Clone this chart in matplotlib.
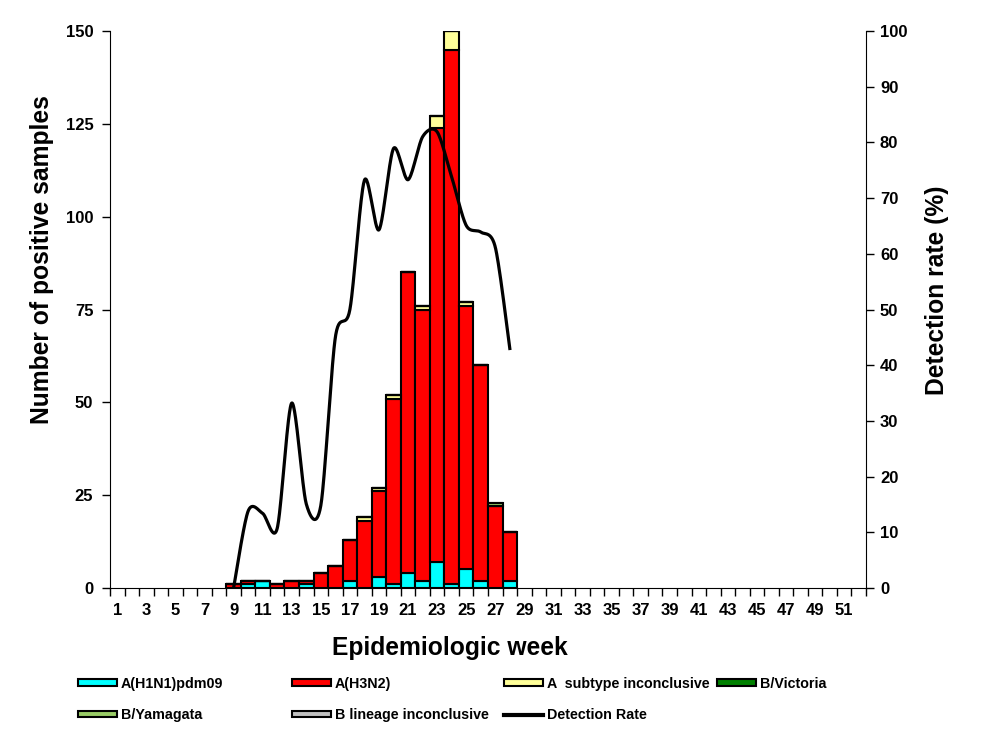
import numpy as np
import matplotlib.pyplot as plt
from matplotlib.patches import Patch
from matplotlib.lines import Line2D

plt.rcParams['font.family'] = ['Liberation Sans', 'DejaVu Sans']

# Epidemiologic weeks 1..52
weeks = np.arange(1, 53)

# counts per week for the weeks with data (9..28)
data_weeks = np.arange(9, 29)
h1n1 = [0, 1, 2, 0, 0, 1, 0, 0, 2, 0, 3, 1, 4, 2, 7, 1, 5, 2, 0, 2]
h3n2 = [1, 1, 0, 1, 2, 1, 4, 6, 11, 18, 23, 50, 81, 73, 117, 144, 71, 58, 22, 13]
a_inconcl = [0, 0, 0, 0, 0, 0, 0, 0, 0, 1, 1, 1, 0, 1, 3, 5, 1, 0, 0, 0]
b_victoria = [0] * 20
b_yamagata = [0, 0, 0, 0, 0, 0, 0, 0, 0, 0, 0, 0, 0, 0, 0, 0, 0, 0, 1, 0]
b_lin_inconcl = [0] * 20

# detection rate (%)
rate = [0, 13.8, 13.4, 10.7, 33.2, 15.1, 14.8, 45.0, 50.0, 73.2, 64.3, 78.9,
        73.3, 81.0, 81.9, 73.8, 65.1, 63.9, 61.2, 43.0]

series = [
    ("A(H1N1)pdm09", h1n1, "#00FFFF"),
    ("A(H3N2)", h3n2, "#FF0000"),
    ("A  subtype inconclusive", a_inconcl, "#FFFF99"),
    ("B/Victoria", b_victoria, "#008000"),
    ("B/Yamagata", b_yamagata, "#99CC66"),
    ("B lineage inconclusive", b_lin_inconcl, "#C0C0C0"),
]


def smooth_curve(x, y, n=30, k=7.0):
    # Excel-like smoothing: cubic Bezier with Catmull-Rom style control points
    x = np.asarray(x, float)
    y = np.asarray(y, float)
    px = np.concatenate([[x[0]], x, [x[-1]]])
    py = np.concatenate([[y[0]], y, [y[-1]]])
    xs, ys = [], []
    t = np.linspace(0, 1, n)
    for i in range(1, len(px) - 2):
        p0 = np.array([px[i], py[i]])
        p3 = np.array([px[i + 1], py[i + 1]])
        c1 = p0 + (np.array([px[i + 1], py[i + 1]]) - np.array([px[i - 1], py[i - 1]])) / k
        c2 = p3 - (np.array([px[i + 2], py[i + 2]]) - np.array([px[i], py[i]])) / k
        b = ((1 - t) ** 3)[:, None] * p0 + (3 * (1 - t) ** 2 * t)[:, None] * c1 \
            + (3 * (1 - t) * t ** 2)[:, None] * c2 + (t ** 3)[:, None] * p3
        xs.extend(b[:, 0])
        ys.extend(b[:, 1])
    return np.array(xs), np.array(ys)


fig = plt.figure(figsize=(9.97, 7.37), dpi=100)
ax = fig.add_axes([110 / 997, 1 - 588 / 737, 756 / 997, 557 / 737])

bottom = np.zeros(len(data_weeks))
for name, vals, col in series:
    vals = np.array(vals, float)
    ax.bar(data_weeks, vals, bottom=bottom, width=1.0, color=col,
           edgecolor='black', linewidth=1.5, zorder=2)
    bottom += vals

ax.set_xlim(0.5, 52.5)
ax.set_ylim(0, 150)
ax.set_yticks(np.arange(0, 151, 25))
ax.set_xticks(np.arange(0.5, 53, 1))
ax.set_xticklabels([])
ax.set_xticks(weeks[::2], minor=True)
ax.set_xticklabels([str(w) for w in weeks[::2]], minor=True)
ax.tick_params(axis='x', which='major', length=6, width=1, direction='out')
ax.tick_params(axis='x', which='minor', length=0, pad=11, labelsize=12)
ax.tick_params(axis='y', length=6, width=1, direction='out', labelsize=12, pad=6)
for lab in ax.get_xticklabels(minor=True) + ax.get_yticklabels():
    lab.set_fontweight('bold')
ax.spines['top'].set_visible(False)
ax.spines['right'].set_visible(False)

ax2 = ax.twinx()
ax2.set_ylim(0, 100)
ax2.set_yticks(np.arange(0, 101, 10))
ax2.tick_params(axis='y', length=6, width=1, direction='out', labelsize=12, pad=4)
for lab in ax2.get_yticklabels():
    lab.set_fontweight('bold')
ax2.spines['top'].set_visible(False)
ax2.spines['left'].set_visible(False)
ax2.spines['bottom'].set_visible(False)

sx, sy = smooth_curve(data_weeks, rate)
ax2.plot(sx, sy, color='black', linewidth=2.3, zorder=3)

fig.text(42 / 997, 1 - 260 / 737, "Number of positive samples", rotation=90,
         ha='center', va='center', fontsize=17.7, fontweight='bold')
fig.text(937 / 997, 1 - 290 / 737, "Detection rate (%)", rotation=90,
         ha='center', va='center', fontsize=17.7, fontweight='bold')
fig.text(450 / 997, 1 - 648 / 737, "Epidemiologic week",
         ha='center', va='center', fontsize=17.7, fontweight='bold')

# legend, built column by column
def handle(name):
    for n, _, c in series:
        if n == name:
            return Patch(facecolor=c, edgecolor='black', linewidth=1.5, label=n)
    return Line2D([], [], color='black', linewidth=3, label=name)

columns = [
    (78, ["A(H1N1)pdm09", "B/Yamagata"]),
    (292, ["A(H3N2)", "B lineage inconclusive"]),
    (504, ["A  subtype inconclusive", "Detection Rate"]),
    (717, ["B/Victoria"]),
]
for xpix, names in columns:
    leg = fig.legend(handles=[handle(n) for n in names], loc='upper left',
                     bbox_to_anchor=(xpix / 997, 1 - 677 / 737), frameon=False,
                     prop={'size': 10.3, 'weight': 'bold'}, handlelength=2.7,
                     handleheight=0.35, handletextpad=0.3, labelspacing=1.2,
                     borderpad=0, borderaxespad=0)

fig.savefig("out.png", dpi=100)
